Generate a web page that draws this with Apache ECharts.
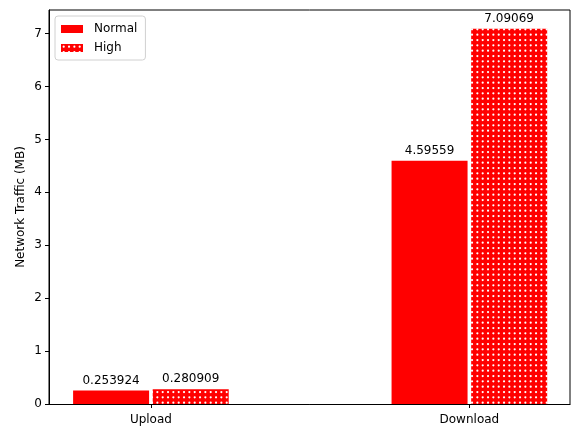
<!DOCTYPE html>
<html lang="en">
<head>
    <meta charset="UTF-8">
    <title>Network Traffic</title>
    <script src="https://cdn.jsdelivr.net/npm/echarts@6/dist/echarts.min.js"></script>
</head>
<body style="margin:0">
<div id="main" style="width: 571px;height:428px;"></div>
<script type="text/javascript">
    var categories = ['Upload', 'Download'];
    var normalValues = [0.253924, 4.59559];
    var highValues = [0.280909, 7.09069];
    var yTicks = [0, 1, 2, 3, 4, 5, 6, 7];

    // red fill with white dots, like the '.' hatch
    var dots = document.createElement('canvas');
    dots.width = 16;
    dots.height = 16;
    var ctx = dots.getContext('2d');
    ctx.fillStyle = '#ff0000';
    ctx.fillRect(0, 0, 16, 16);
    ctx.fillStyle = '#ffffff';
    for (var i = 0; i < 3; i++) {
        for (var j = 0; j < 3; j++) {
            ctx.beginPath();
            ctx.arc(2.7 + i * 16 / 3, 2.7 + j * 16 / 3, 1.1, 0, Math.PI * 2);
            ctx.fill();
        }
    }

    function shift(vals, d) {
        return vals.map(function (v, k) { return [k + d, v]; });
    }

    var font = 'DejaVu Sans';
    var myChart = echarts.init(document.getElementById('main'));
    myChart.setOption({
        animation: false,
        textStyle: {fontFamily: font},
        grid: {left: 49, right: 1, top: 10, bottom: 24},
        legend: {
            left: 55, top: 16,
            orient: 'vertical',
            icon: 'rect',
            itemWidth: 22, itemHeight: 8, itemGap: 7,
            padding: [7, 8, 6, 6],
            borderColor: '#d0d0d0', borderWidth: 1, borderRadius: 3,
            backgroundColor: 'rgba(255,255,255,0.8)',
            textStyle: {fontSize: 12, color: '#000', fontFamily: font, padding: [0, 0, 0, 6]},
            data: ['Normal', 'High']
        },
        xAxis: {
            type: 'value',
            min: -0.32, max: 1.316,
            splitLine: {show: false},
            axisLine: {onZero: false, lineStyle: {color: '#000'}},
            axisTick: {show: true, length: 4, lineStyle: {color: '#000'}, customValues: [0, 1]},
            axisLabel: {
                customValues: [0, 1],
                color: '#000', fontSize: 12, fontFamily: font, margin: 10,
                formatter: function (v) { return categories[Math.round(v)]; }
            }
        },
        yAxis: {
            type: 'value',
            min: 0, max: 7.445,
            name: 'Network Traffic (MB)',
            nameLocation: 'middle',
            nameGap: 22,
            nameMoveOverlap: false,
            nameTextStyle: {fontSize: 12, color: '#000', fontFamily: font},
            splitLine: {show: false},
            axisLine: {show: true, onZero: false, lineStyle: {color: '#000'}},
            axisTick: {show: true, length: 4, lineStyle: {color: '#000'}, customValues: yTicks},
            axisLabel: {customValues: yTicks, color: '#000', fontSize: 12, fontFamily: font, margin: 7}
        },
        series: [{
            name: 'Normal',
            type: 'bar',
            data: shift(normalValues, -0.125),
            barWidth: 76,
            barGap: '-100%',
            itemStyle: {color: '#ff0000'},
            label: {show: true, position: 'top', distance: 4, color: '#000', fontSize: 12, fontFamily: font,
                formatter: function (p) { return String(p.value[1]); }}
        }, {
            name: 'High',
            type: 'bar',
            data: shift(highValues, 0.125),
            barWidth: 76,
            barGap: '-100%',
            itemStyle: {color: {image: dots, repeat: 'repeat'}},
            label: {show: true, position: 'top', distance: 4, color: '#000', fontSize: 12, fontFamily: font,
                formatter: function (p) { return String(p.value[1]); }}
        }],
        graphic: [{
            type: 'rect',
            shape: {x: 49, y: 10, width: 521, height: 394.5},
            style: {fill: 'none', stroke: '#000', lineWidth: 1},
            silent: true
        }]
    });
</script>
</body>
</html>
